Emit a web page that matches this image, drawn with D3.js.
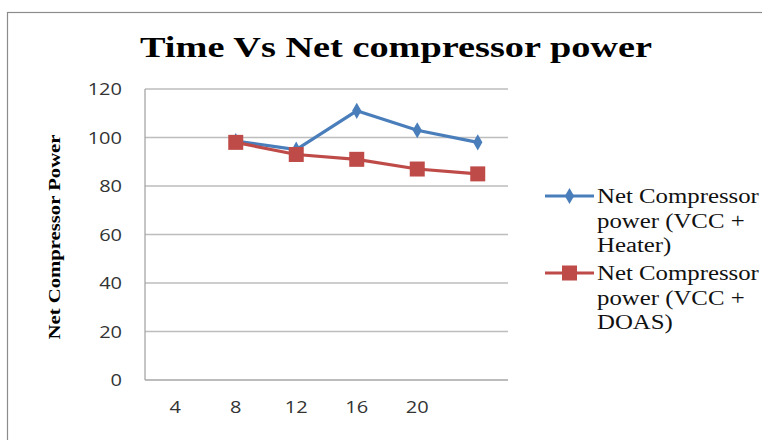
<!DOCTYPE html>
<html><head><meta charset="utf-8">
<script src="https://cdn.jsdelivr.net/npm/d3@7"></script>
<style>body{margin:0;background:#fff;overflow:hidden}</style>
</head><body>
<svg id="c" width="762" height="440"></svg>
<script>
const categories = ["4","8","12","16","20",""];
const heaterValues = [null, 98.5, 95, 111, 103, 98];
const doasValues = [null, 98, 93, 91, 87, 85];
const yTicks = [0,20,40,60,80,100,120];
const seriesNames = [["Net Compressor","power (VCC +","Heater)"],["Net Compressor","power (VCC +","DOAS)"]];
const titleText = "Time Vs Net compressor power";
const yTitle = "Net Compressor Power";

const svg = d3.select("#c");
function stretch(sel,k){ sel.each(function(){ const w=this.getComputedTextLength(); if(w>0){ d3.select(this).attr("textLength",w*k).attr("lengthAdjust","spacingAndGlyphs"); } }); }

svg.append("rect").attr("x",7.5).attr("y",12.5).attr("width",800).attr("height",500)
  .attr("fill","#fff").attr("stroke","#8c8c8c").attr("stroke-width",1.2);

const L=145, R=508, T=89, B=380;
const x = d3.scaleBand().domain(categories.map((c,i)=>i)).range([L,R]);
const y = d3.scaleLinear().domain([0,120]).range([B,T]);

svg.append("g").selectAll("line").data(yTicks.filter(v=>v>0)).join("line")
  .attr("x1",L).attr("x2",R).attr("y1",d=>y(d)).attr("y2",d=>y(d))
  .attr("stroke","#bdbdbd").attr("stroke-width",1.3);
svg.append("line").attr("x1",L).attr("x2",R).attr("y1",B).attr("y2",B).attr("stroke","#a6a6a6").attr("stroke-width",1.3);
svg.append("line").attr("x1",L).attr("x2",L).attr("y1",T).attr("y2",B).attr("stroke","#a6a6a6").attr("stroke-width",1.3);

const tickFont = "'Open Sans', sans-serif";
const yAxis = d3.axisLeft(y).tickValues(yTicks).tickSize(0).tickPadding(0);
const gy = svg.append("g").attr("transform",`translate(${122},0)`).call(yAxis);
gy.select(".domain").remove();
gy.selectAll("text").attr("font-family",tickFont).attr("font-size",16).attr("fill","#333").attr("dy","0.35em");
stretch(gy.selectAll("text"),1.25);

const xAxis = d3.axisBottom(x).tickFormat(i=>categories[i]).tickSize(0).tickPadding(0);
const gx = svg.append("g").attr("transform",`translate(0,${407})`).call(xAxis);
gx.select(".domain").remove();
gx.selectAll("text").attr("font-family",tickFont).attr("font-size",16).attr("fill","#333").attr("dy","0.35em");
stretch(gx.selectAll("text"),1.25);

const cx = i => x(i)+x.bandwidth()/2;
const line = d3.line().defined(d=>d.v!=null).x(d=>cx(d.i)).y(d=>y(d.v));
const blue="#4a7ebb", red="#be4b48";
const hd = heaterValues.map((v,i)=>({i,v})), dd = doasValues.map((v,i)=>({i,v}));

svg.append("path").datum(hd).attr("d",line).attr("fill","none").attr("stroke",blue).attr("stroke-width",3.2);
svg.append("g").selectAll("path").data(hd.filter(d=>d.v!=null)).join("path")
  .attr("d",d3.symbol(d3.symbolDiamond,75)).attr("transform",d=>`translate(${cx(d.i)},${y(d.v)})`).attr("fill",blue);
svg.append("path").datum(dd).attr("d",line).attr("fill","none").attr("stroke",red).attr("stroke-width",3.2);
svg.append("g").selectAll("rect").data(dd.filter(d=>d.v!=null)).join("rect")
  .attr("x",d=>cx(d.i)-7.5).attr("y",d=>y(d.v)-7.5).attr("width",15).attr("height",15).attr("fill",red);

svg.append("text").attr("x",396).attr("y",57).attr("text-anchor","middle")
  .attr("font-family","'Liberation Serif', serif").attr("font-weight","bold").attr("font-size",30)
  .attr("textLength",512).attr("lengthAdjust","spacingAndGlyphs").text(titleText);

svg.append("text").attr("transform","translate(60,237) rotate(-90)").attr("text-anchor","middle")
  .attr("font-family","'Liberation Serif', serif").attr("font-weight","bold").attr("font-size",16)
  .attr("textLength",205).attr("lengthAdjust","spacingAndGlyphs").text(yTitle);

const lg = [{c:blue,y:196,sym:"d",lines:seriesNames[0]},{c:red,y:273,sym:"s",lines:seriesNames[1]}];
lg.forEach(l=>{
  svg.append("line").attr("x1",545).attr("x2",594).attr("y1",l.y).attr("y2",l.y).attr("stroke",l.c).attr("stroke-width",3.2);
  if(l.sym==="d") svg.append("path").attr("d",d3.symbol(d3.symbolDiamond,75)).attr("transform",`translate(569.5,${l.y})`).attr("fill",l.c);
  else svg.append("rect").attr("x",562).attr("y",l.y-7.5).attr("width",15).attr("height",15).attr("fill",l.c);
  l.lines.forEach((t,k)=>{
    const tx = svg.append("text").attr("x",597).attr("y",l.y+k*24.5).attr("dy","0.35em")
      .attr("font-family","'Liberation Serif', 'Times New Roman', serif").attr("font-size",20).attr("fill","#111").text(t);
    stretch(tx,1.24);
  });
});
</script>
</body></html>
